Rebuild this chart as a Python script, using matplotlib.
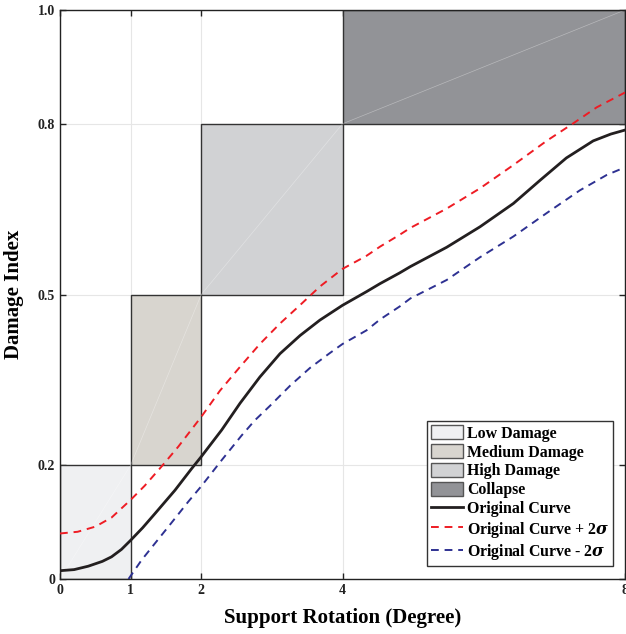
import matplotlib
matplotlib.use("Agg")
import matplotlib.pyplot as plt
from matplotlib.patches import Rectangle, Patch
from matplotlib.lines import Line2D

plt.rcParams['font.family'] = ['Liberation Serif', 'DejaVu Serif']
plt.rcParams['font.weight'] = 'bold'
plt.rcParams['mathtext.fontset'] = 'dejavuserif'

# Damage states: x-range and y-range
state_names = ["Low Damage", "Medium Damage", "High Damage", "Collapse"]
state_x0 = [0, 1, 2, 4]
state_x1 = [1, 2, 4, 8]
state_y0 = [0.0, 0.2, 0.5, 0.8]
state_y1 = [0.2, 0.5, 0.8, 1.0]
state_colors = ["#EFF0F2", "#D8D5CF", "#D1D2D4", "#929397"]

# Original curve
x_orig = [0, 0.20, 0.40, 0.60, 0.73, 0.87, 1.0, 1.17, 1.345, 1.628, 1.864, 2.0,
          2.29, 2.55, 2.83, 3.115, 3.40, 3.68, 4.0, 4.34, 4.53, 4.81, 4.96,
          5.475, 5.947, 6.42, 6.80, 7.17, 7.55, 7.80, 8.0]
y_orig = [0.0146, 0.0165, 0.0225, 0.031, 0.039, 0.052, 0.068, 0.090, 0.115, 0.156,
          0.194, 0.215, 0.262, 0.309, 0.355, 0.396, 0.428, 0.455, 0.481, 0.505,
          0.519, 0.538, 0.549, 0.583, 0.619, 0.660, 0.701, 0.740, 0.770, 0.782,
          0.789]
# Original curve + 2 sigma
x_plus = [0, 0.25, 0.50, 0.73, 1.0, 1.2, 1.44, 1.675, 2.0, 2.265, 2.55, 2.83,
          3.115, 3.40, 3.68, 4.0, 4.34, 4.53, 4.81, 4.96, 5.475, 5.947, 6.42,
          6.89, 7.27, 7.60, 8.0]
y_plus = [0.080, 0.083, 0.092, 0.108, 0.139, 0.164, 0.198, 0.2326, 0.285, 0.331,
          0.373, 0.413, 0.449, 0.4815, 0.514, 0.545, 0.568, 0.584, 0.605, 0.617,
          0.651, 0.6866, 0.7276, 0.770, 0.801, 0.829, 0.855]
# Original curve - 2 sigma
x_minus = [0.97, 1.156, 1.345, 1.58, 1.817, 2.0, 2.29, 2.57, 2.76, 2.97, 3.26,
           3.54, 3.82, 4.0, 4.34, 4.53, 4.81, 4.96, 5.475, 5.947, 6.42, 6.89,
           7.36, 7.74, 8.0]
y_minus = [0.0, 0.0334, 0.0627, 0.099, 0.136, 0.163, 0.209, 0.252, 0.279, 0.304,
           0.340, 0.371, 0.397, 0.413, 0.437, 0.456, 0.479, 0.493, 0.5255,
           0.5655, 0.602, 0.643, 0.683, 0.710, 0.7235]

x_ticks = [0, 1, 2, 4, 8]
y_ticks = [0, 0.2, 0.5, 0.8, 1.0]
y_ticklabels = ["0", "0.2", "0.5", "0.8", "1.0"]

fig = plt.figure(figsize=(6.26, 6.34), dpi=100)
ax = fig.add_axes([60/626, 55/634, 565/626, 569/634])

for i in range(len(state_names)):
    w = state_x1[i] - state_x0[i]
    h = state_y1[i] - state_y0[i]
    ax.add_patch(Rectangle((state_x0[i], state_y0[i]), w, h,
                           facecolor=state_colors[i], edgecolor="#333333",
                           linewidth=1.0, zorder=1))
    ax.plot([state_x0[i], state_x1[i]], [state_y0[i], state_y1[i]],
            color="white", alpha=0.35, linewidth=0.5, zorder=1.5)

dash = (0, (4, 3))
ax.plot(x_orig, y_orig, color="#231F20", linewidth=2.0, zorder=3,
        solid_joinstyle='round')
ax.plot(x_plus, y_plus, color="#EE1C24", linewidth=1.4, linestyle=dash, zorder=3)
ax.plot(x_minus, y_minus, color="#2E3192", linewidth=1.4, linestyle=dash, zorder=3)

ax.set_xlim(0, 8)
ax.set_ylim(0, 1.0)
ax.set_xticks(x_ticks)
ax.set_xticklabels([str(v) for v in x_ticks])
ax.set_yticks(y_ticks)
ax.set_yticklabels(y_ticklabels)
ax.tick_params(direction='in', top=True, right=True, length=4, width=1,
               labelsize=10, colors="#222222")
for lab in ax.get_xticklabels() + ax.get_yticklabels():
    lab.set_fontweight('bold')
ax.grid(True, color="#E6E6E6", linewidth=0.8)
ax.set_axisbelow(True)
for sp in ax.spines.values():
    sp.set_linewidth(1.0)
    sp.set_color("#222222")

ax.set_xlabel("Support Rotation (Degree)", fontsize=15, fontweight='bold', labelpad=8)
ax.set_ylabel("Damage Index", fontsize=15, fontweight='bold', labelpad=10)

handles = [Patch(facecolor=state_colors[i], edgecolor="#555555", linewidth=1.0,
                 label=state_names[i]) for i in range(4)]
handles += [
    Line2D([], [], color="#231F20", linewidth=2.0, label="Original Curve"),
    Line2D([], [], color="#EE1C24", linewidth=1.4, linestyle=dash,
           label=r"Original Curve + 2$\sigma$"),
    Line2D([], [], color="#2E3192", linewidth=1.4, linestyle=dash,
           label=r"Original Curve - 2$\sigma$"),
]
leg = ax.legend(handles=handles, loc="lower right", bbox_to_anchor=(0.979, 0.023),
                fancybox=False, edgecolor="#333333", framealpha=1.0,
                prop={'weight': 'bold', 'size': 11.4}, handlelength=2.0,
                handleheight=1.0, handletextpad=0.25, labelspacing=0.15,
                borderpad=0.25, borderaxespad=0)
leg.get_frame().set_linewidth(1.0)

fig.savefig("out.png", dpi=100)
